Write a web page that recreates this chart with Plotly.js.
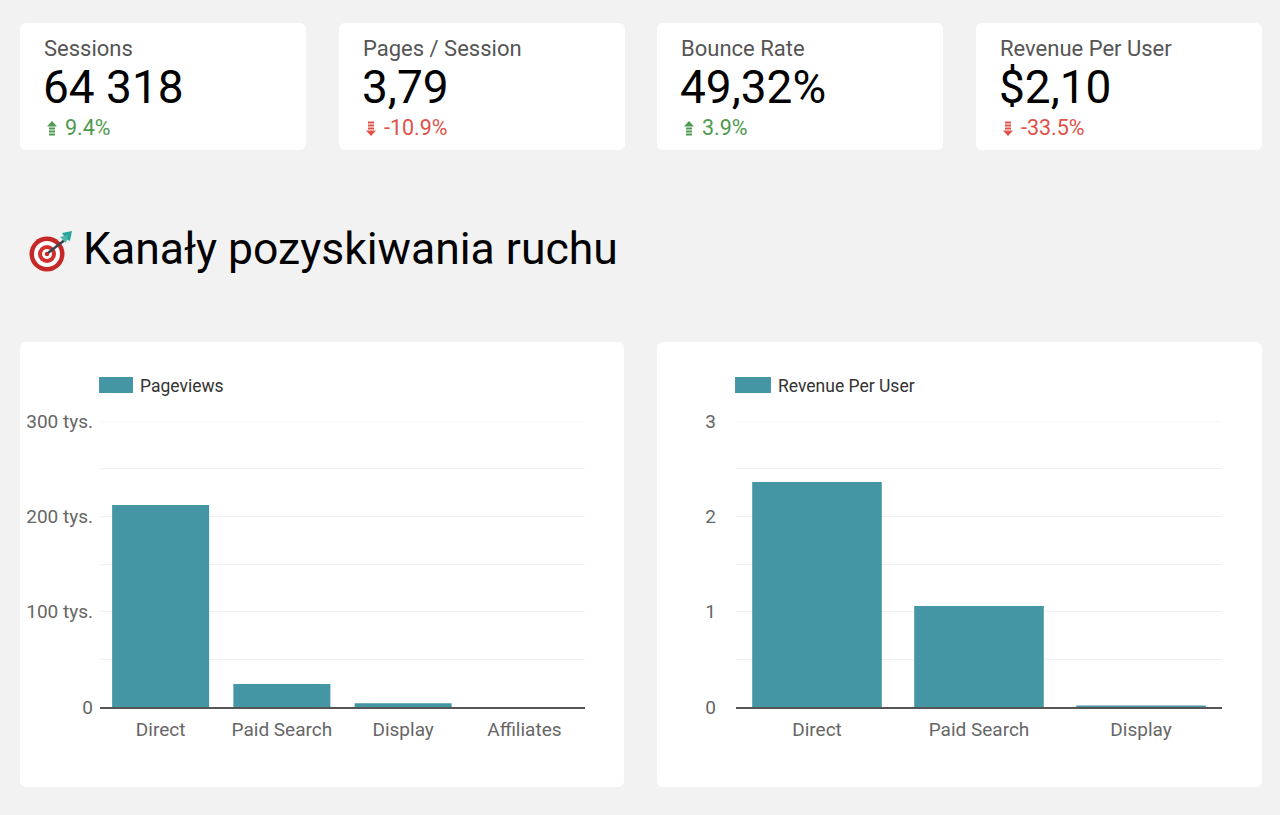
<!DOCTYPE html>
<html>
<head>
<meta charset="utf-8">
<script src="https://cdn.plot.ly/plotly-3.0.1.min.js"></script>
<style>
  body { margin: 0; background: #f2f2f2; font-family: Roboto, sans-serif; }
  #page { position: relative; width: 1280px; height: 815px; overflow: hidden; }
  .card { position: absolute; background: #fff; border-radius: 6px; }
  .kpi .label { position: absolute; left: 24px; top: 15px; font-size: 22px; line-height: 1; color: #555; white-space: nowrap; }
  .kpi .value { position: absolute; left: 23px; top: 41px; font-size: 46px; line-height: 1; color: #000; white-space: nowrap; }
  .kpi .delta { position: absolute; left: 45px; top: 94px; font-size: 21.5px; line-height: 1; white-space: nowrap; }
  .kpi svg { position: absolute; left: 27px; top: 98px; }
  #title { position: absolute; left: 83px; top: 227px; font-size: 44.5px; line-height: 1; color: #000; white-space: nowrap; }
  #target { position: absolute; left: 26px; top: 229px; }
  .chart { position: absolute; }
</style>
</head>
<body>
<div id="page">
  <div id="kpis"></div>
  <svg id="target" width="50" height="44" viewBox="0 0 50 44">
    <circle cx="21" cy="25" r="17.5" fill="#c62828"/>
    <circle cx="21" cy="25" r="13" fill="#fff"/>
    <circle cx="21" cy="25" r="9" fill="#d32f2f"/>
    <circle cx="21" cy="25" r="5" fill="#fff"/>
    <circle cx="21" cy="25" r="2.2" fill="#c62828"/>
    <line x1="22" y1="24" x2="40" y2="10" stroke="#37474f" stroke-width="2.5"/>
    <path d="M36 4 L46 2 L44 12 L40 10 Z" fill="#26a69a"/>
    <path d="M34 8 L42 6 L40 14 Z" fill="#4db6ac"/>
  </svg>
  <div id="title">Kanały pozyskiwania ruchu</div>
  <div class="card" style="left:20px;top:342px;width:604px;height:445px;"></div>
  <div class="card" style="left:657px;top:342px;width:605px;height:445px;"></div>
  <div id="chartPageviews" class="chart" style="left:20px;top:342px;width:604px;height:445px;"></div>
  <div id="chartRevenue" class="chart" style="left:657px;top:342px;width:605px;height:445px;"></div>
</div>
<script>
// scorecards
var kpiLabels = ['Sessions', 'Pages / Session', 'Bounce Rate', 'Revenue Per User'];
var kpiValues = ['64 318', '3,79', '49,32%', '$2,10'];
var kpiDeltas = [9.4, -10.9, 3.9, -33.5];
var kpiLeft = [20, 339, 657, 976];

// channel data
var channelsPv = ['Direct', 'Paid Search', 'Display', 'Affiliates'];
var pageviews = [212000, 24000, 4000, 100];
var pvTicks = [0, 100000, 200000, 300000];
var pvTickText = ['0', '100 tys.', '200 tys.', '300 tys.'];
var channelsRev = ['Direct', 'Paid Search', 'Display'];
var revenuePerUser = [2.36, 1.06, 0.015];
var revTicks = [0, 1, 2, 3];

var teal = '#4596a4';
var green = '#4e9a50';
var red = '#e0524a';
var grid = '#efefef';

var upArrow = '<svg width="10" height="15" viewBox="0 0 10 15"><path d="M5 0 L10 5.5 L0 5.5 Z" fill="' + green + '"/>' +
  '<rect x="2" y="6.5" width="6" height="2" fill="' + green + '"/><rect x="2" y="9.5" width="6" height="2" fill="' + green + '"/><rect x="2" y="12.5" width="6" height="2" fill="' + green + '"/></svg>';
var downArrow = '<svg width="10" height="15" viewBox="0 0 10 15"><rect x="2" y="0.5" width="6" height="2" fill="' + red + '"/><rect x="2" y="3.5" width="6" height="2" fill="' + red + '"/>' +
  '<rect x="2" y="6.5" width="6" height="2" fill="' + red + '"/><path d="M5 15 L10 9.5 L0 9.5 Z" fill="' + red + '"/></svg>';

var html = '';
for (var i = 0; i < kpiLabels.length; i++) {
  var d = kpiDeltas[i];
  var up = d >= 0;
  html += '<div class="card kpi" style="left:' + kpiLeft[i] + 'px;top:23px;width:286px;height:127px;">' +
    '<div class="label">' + kpiLabels[i] + '</div>' +
    '<div class="value">' + kpiValues[i] + '</div>' +
    (up ? upArrow : downArrow) +
    '<div class="delta" style="color:' + (up ? green : red) + '">' + d.toFixed(1) + '%</div>' +
    '</div>';
}
document.getElementById('kpis').innerHTML = html;

function barChart(div, w, cats, vals, name, ticks, yaxis, margin, swatchX1, textX) {
  var trace = {
    x: cats,
    y: vals,
    name: name,
    type: 'bar',
    marker: { color: teal },
    showlegend: false
  };
  var top = ticks[ticks.length - 1];
  var layout = {
    width: w,
    height: 445,
    margin: margin,
    paper_bgcolor: 'rgba(0,0,0,0)',
    plot_bgcolor: 'rgba(0,0,0,0)',
    bargap: 0.2,
    font: { family: 'Roboto, sans-serif', size: 19, color: '#666' },
    xaxis: {
      showgrid: false,
      showline: true,
      linecolor: '#555',
      linewidth: 1.5,
      ticks: '',
      ticklabelstandoff: 5,
      tickfont: { size: 19, color: '#666' }
    },
    yaxis: yaxis,
    shapes: [{
      // top gridline sits on the plot edge, plotly skips it
      type: 'line', xref: 'paper', yref: 'y', x0: 0, x1: 1, y0: top, y1: top,
      line: { color: grid, width: 1 }, layer: 'below'
    }, {
      type: 'rect', xref: 'paper', yref: 'paper',
      x0: -0.002, x1: swatchX1, y0: 1.098, y1: 1.154,
      fillcolor: teal, line: { width: 0 }
    }],
    annotations: [{
      xref: 'paper', yref: 'paper', x: textX, y: 1.123,
      xanchor: 'left', yanchor: 'middle', showarrow: false,
      text: name, font: { size: 17.5, color: '#333' }
    }]
  };
  Plotly.newPlot(div, [trace], layout, { staticPlot: true, displayModeBar: false });
}

barChart('chartPageviews', 604, channelsPv, pageviews, 'Pageviews', pvTicks, {
  range: [0, 300000],
  tickmode: 'array',
  tickvals: pvTicks,
  ticktext: pvTickText,
  minor: { tickvals: [50000, 150000, 250000], showgrid: true, gridcolor: grid, ticks: '' },
  gridcolor: grid,
  zeroline: false,
  ticks: '',
  ticklabelstandoff: 6,
  tickfont: { size: 19, color: '#666' }
}, { l: 80, r: 39, t: 79, b: 80 }, 0.068, 0.078);

barChart('chartRevenue', 605, channelsRev, revenuePerUser, 'Revenue Per User', revTicks, {
  range: [0, 3],
  tickmode: 'array',
  tickvals: revTicks,
  minor: { tickvals: [0.5, 1.5, 2.5], showgrid: true, gridcolor: grid, ticks: '' },
  gridcolor: grid,
  zeroline: false,
  ticks: '',
  ticklabelstandoff: 19,
  tickfont: { size: 19, color: '#666' }
}, { l: 79, r: 40, t: 79, b: 80 }, 0.072, 0.082);
</script>
</body>
</html>
